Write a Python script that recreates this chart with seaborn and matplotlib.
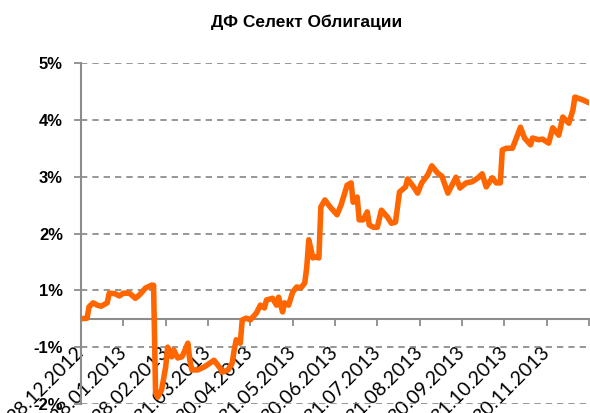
import pandas as pd
import numpy as np
import matplotlib
matplotlib.use("Agg")
import matplotlib.pyplot as plt
import seaborn as sns

# ── Data (x = trading-day index, y = chart units) ───────────────────────────
TITLE = "ДФ Селект Облигации"

day_idx = [0, 3, 4, 6, 8, 10, 13, 14, 17, 19, 21, 24, 27, 29, 32, 35, 36,
           37, 38, 40, 42, 43, 45, 46, 48, 50, 51, 53, 54, 55, 58, 61, 64,
           66, 69, 70, 73, 75, 76, 77, 79, 80, 82, 84, 87, 89, 91, 92, 95,
           97, 98, 100, 101, 103, 105, 107, 109, 111, 112, 113, 115, 116,
           118, 119, 121, 122, 124, 127, 129, 132, 134, 135, 137, 138, 140,
           142, 143, 145, 147, 149, 152, 154, 156, 158, 161, 162, 165, 167,
           169, 172, 174, 177, 179, 182, 184, 186, 188, 191, 194, 197, 199,
           201, 204, 206, 208, 209, 211, 214, 215, 218, 220, 223, 224, 227,
           229, 232, 234, 237, 239, 242, 244, 245, 249, 252]

value = [0.50, 0.51, 0.71, 0.78, 0.74, 0.72, 0.78, 0.95, 0.94, 0.90, 0.95,
         0.95, 0.86, 0.92, 1.04, 1.09, 1.09,
         -0.81, -0.88, -0.75, -0.35, 0.00, -0.17, -0.05, -0.19, -0.17, -0.10,
         0.07, -0.23, -0.40, -0.40, -0.35, -0.28, -0.23, -0.37, -0.44, -0.40,
         -0.28, -0.05, 0.13, 0.07, 0.48, 0.51, 0.48, 0.60, 0.74, 0.69, 0.83,
         0.86, 0.74, 0.88, 0.62, 0.78, 0.74, 0.97, 1.06, 1.04, 1.13, 1.41,
         1.89, 1.57, 1.59, 1.57, 2.47, 2.59, 2.54, 2.45, 2.33, 2.50, 2.85,
         2.89, 2.55, 2.64, 2.24, 2.24, 2.38, 2.15, 2.11, 2.11, 2.41, 2.29,
         2.18, 2.20, 2.73, 2.82, 2.96, 2.82, 2.71, 2.89, 3.03, 3.19, 3.06,
         3.01, 2.71, 2.85, 2.99, 2.80, 2.89, 2.91, 2.98, 3.05, 2.82, 2.98,
         2.89, 2.89, 3.47, 3.50, 3.50, 3.59, 3.87, 3.68, 3.56, 3.68, 3.65,
         3.66, 3.59, 3.86, 3.73, 4.05, 3.94, 4.17, 4.40, 4.35, 4.30]

tick_days   = [0, 21, 42, 63, 84, 105, 126, 147, 168, 189, 210, 231, 252]
tick_labels = ["28.12.2012", "28.01.2013", "28.02.2013", "31.03.2013",
               "30.04.2013", "31.05.2013", "30.06.2013", "31.07.2013",
               "31.08.2013", "30.09.2013", "31.10.2013", "30.11.2013", ""]

y_ticks       = [5, 4, 3, 2, 1, 0, -1]
y_tick_labels = ["5%", "4%", "3%", "2%", "1%", "-1%", "-2%"]

# ── Theme ───────────────────────────────────────────────────────────────────
LINE = "#FF6600"
AXIS = "#8C8C8C"
GRID = "#858585"
TEXT = "#000000"

sns.set_style("white")
plt.rcParams["font.family"] = ["Liberation Sans", "DejaVu Sans"]
plt.rcParams["text.color"] = TEXT

df = pd.DataFrame({"day": day_idx, "value": value})

fig = plt.figure(figsize=(5.9, 4.13), dpi=100)
ax = fig.add_axes([81 / 590, 1 - 404 / 413, 508 / 590, 341 / 413])

for yv in y_ticks:
    ax.axhline(yv, color=GRID, linewidth=1.2, linestyle=(0, (3.8, 3.0)), zorder=1)

sns.lineplot(data=df, x="day", y="value", ax=ax, color=LINE,
             linewidth=4.0, zorder=3)

ax.set_xlim(0, 252)
ax.set_ylim(-1, 5)
ax.set_xlabel("")
ax.set_ylabel("")

# spines: only left and an x-axis crossing at the chart zero
for s in ["top", "right"]:
    ax.spines[s].set_visible(False)
ax.spines["left"].set_color(AXIS)
ax.spines["left"].set_linewidth(1.5)
ax.spines["bottom"].set_color(AXIS)
ax.spines["bottom"].set_linewidth(1.5)
ax.spines["bottom"].set_position(("data", 0.5))
ax.spines["bottom"].set_zorder(2)

ax.set_yticks(y_ticks)
ax.set_yticklabels(y_tick_labels, fontsize=12, fontweight="bold",
                   family=["Liberation Sans", "DejaVu Sans"], color=TEXT)
ax.tick_params(axis="y", direction="out", length=5, width=1.3, color=AXIS,
               pad=8, left=True)

ax.set_xticks(tick_days)
ax.set_xticklabels(tick_labels, rotation=45, ha="right", va="center",
                   rotation_mode="anchor", fontsize=14, color=TEXT,
                   family=["Lato", "DejaVu Sans"])
ax.tick_params(axis="x", direction="out", length=5, width=1.3, color=AXIS,
               pad=17, bottom=True)

fig.text(0.52, 0.945, TITLE, ha="center", va="center", fontsize=12.5,
         fontweight="bold", color=TEXT)

fig.savefig("out.png", dpi=100, facecolor="white")
